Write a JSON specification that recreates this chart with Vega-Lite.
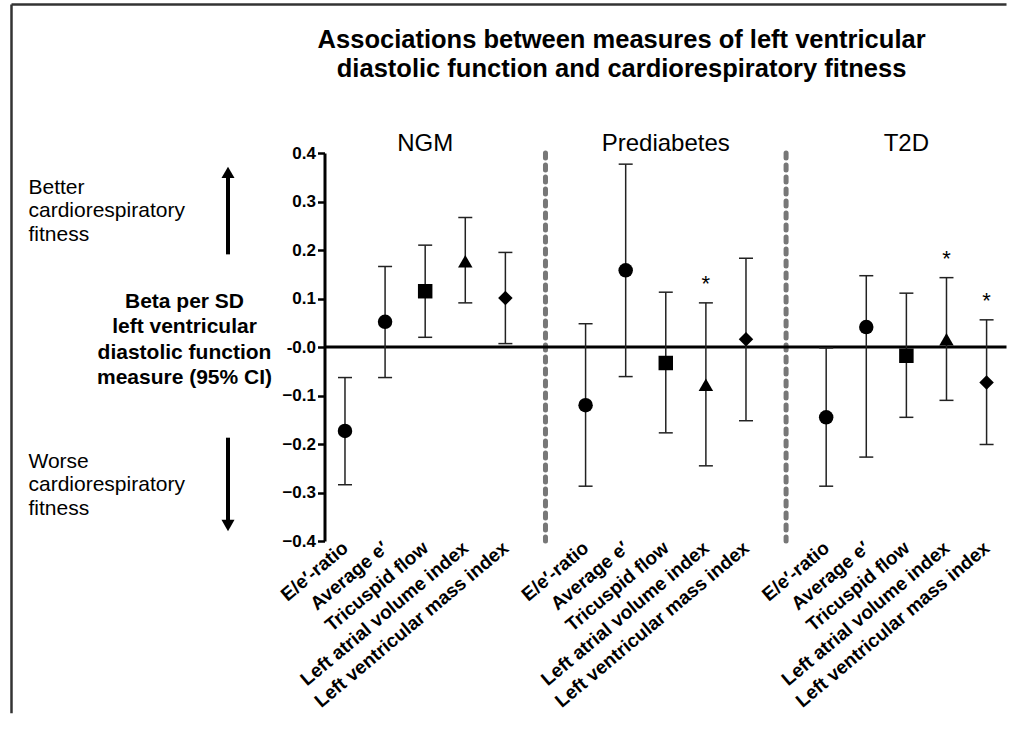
{
  "$schema": "https://vega.github.io/schema/vega-lite/v6.json",
  "autosize": {"type": "pad"},
  "padding": {"left": 4.5, "top": 3, "right": 0, "bottom": 0},
  "background": "white",
  "config": {
    "font": "Liberation Sans",
    "view": {"stroke": null},
    "axis": {"grid": false}
  },
  "spacing": 20,
  "bounds": "flush",
  "hconcat": [
    {
      "width": 300,
      "height": 388,
      "data": {"values": [{}]},
      "layer": [
        {
          "mark": {"type": "rule", "stroke": "#333333", "strokeWidth": 2.5},
          "encoding": {
            "x": {"datum": 0.2333, "type": "quantitative", "scale": {"domain": [0, 10], "nice": false, "zero": false}, "axis": null},
            "y": {"datum": 0.7062, "type": "quantitative", "scale": {"domain": [-0.4, 0.4], "nice": false, "zero": false}, "axis": null},
            "y2": {"datum": -0.755}
          }
        },
        {
          "mark": {"type": "rule", "stroke": "#333333", "strokeWidth": 2.5},
          "encoding": {
            "x": {"datum": 0.2333, "type": "quantitative"},
            "x2": {"datum": 33.4},
            "y": {"datum": 0.7062, "type": "quantitative"}
          }
        },
        {
          "mark": {"type": "text", "fontWeight": "bold", "fontSize": 25.5, "align": "center", "baseline": "middle", "lineHeight": 29, "color": "black"},
          "encoding": {
            "x": {"datum": 20.57, "type": "quantitative"},
            "y": {"datum": 0.633, "type": "quantitative"},
            "text": {"value": ["Associations between measures of left ventricular", "diastolic function and cardiorespiratory fitness"]}
          }
        },
        {
          "mark": {"type": "text", "fontWeight": "bold", "fontSize": 21, "align": "center", "baseline": "middle", "lineHeight": 25.5, "color": "black"},
          "encoding": {
            "x": {"datum": 6.0, "type": "quantitative"},
            "y": {"datum": 0.093, "type": "quantitative"},
            "text": {"value": ["Beta per SD", "left ventricular", "diastolic function", "measure (95% CI)"]}
          }
        },
        {
          "mark": {"type": "text", "fontSize": 21, "align": "left", "baseline": "middle", "lineHeight": 23.5, "color": "black"},
          "encoding": {
            "x": {"datum": 0.8, "type": "quantitative"},
            "y": {"datum": 0.328, "type": "quantitative"},
            "text": {"value": ["Better", "cardiorespiratory", "fitness"]}
          }
        },
        {
          "mark": {"type": "text", "fontSize": 21, "align": "left", "baseline": "middle", "lineHeight": 23.5, "color": "black"},
          "encoding": {
            "x": {"datum": 0.8, "type": "quantitative"},
            "y": {"datum": -0.237, "type": "quantitative"},
            "text": {"value": ["Worse", "cardiorespiratory", "fitness"]}
          }
        },
        {
          "mark": {"type": "rule", "stroke": "black", "strokeWidth": 4},
          "encoding": {
            "x": {"datum": 7.45, "type": "quantitative"},
            "y": {"datum": 0.191, "type": "quantitative"},
            "y2": {"datum": 0.35}
          }
        },
        {
          "mark": {"type": "point", "shape": "triangle-up", "filled": true, "color": "black", "size": 170, "opacity": 1},
          "encoding": {
            "x": {"datum": 7.45, "type": "quantitative"},
            "y": {"datum": 0.36, "type": "quantitative"}
          }
        },
        {
          "mark": {"type": "rule", "stroke": "black", "strokeWidth": 4},
          "encoding": {
            "x": {"datum": 7.45, "type": "quantitative"},
            "y": {"datum": -0.187, "type": "quantitative"},
            "y2": {"datum": -0.358}
          }
        },
        {
          "mark": {"type": "point", "shape": "triangle-down", "filled": true, "color": "black", "size": 170, "opacity": 1},
          "encoding": {
            "x": {"datum": 7.45, "type": "quantitative"},
            "y": {"datum": -0.368, "type": "quantitative"}
          }
        }
      ]
    },
    {
      "width": 682,
      "height": 388,
      "data": {
        "values": [
          {"group": "NGM", "measure": "E/e′-ratio", "key": "NGM|E/e′-ratio", "beta": -0.173, "lo": -0.284, "hi": -0.063, "sig": ""},
          {"group": "NGM", "measure": "Average e′", "key": "NGM|Average e′", "beta": 0.052, "lo": -0.063, "hi": 0.166, "sig": ""},
          {"group": "NGM", "measure": "Tricuspid flow", "key": "NGM|Tricuspid flow", "beta": 0.115, "lo": 0.020, "hi": 0.210, "sig": ""},
          {"group": "NGM", "measure": "Left atrial volume index", "key": "NGM|Left atrial volume index", "beta": 0.177, "lo": 0.091, "hi": 0.267, "sig": ""},
          {"group": "NGM", "measure": "Left ventricular mass index", "key": "NGM|Left ventricular mass index", "beta": 0.101, "lo": 0.007, "hi": 0.195, "sig": ""},
          {"group": "Prediabetes", "measure": "E/e′-ratio", "key": "Prediabetes|E/e′-ratio", "beta": -0.120, "lo": -0.287, "hi": 0.048, "sig": ""},
          {"group": "Prediabetes", "measure": "Average e′", "key": "Prediabetes|Average e′", "beta": 0.158, "lo": -0.061, "hi": 0.377, "sig": ""},
          {"group": "Prediabetes", "measure": "Tricuspid flow", "key": "Prediabetes|Tricuspid flow", "beta": -0.033, "lo": -0.177, "hi": 0.113, "sig": ""},
          {"group": "Prediabetes", "measure": "Left atrial volume index", "key": "Prediabetes|Left atrial volume index", "beta": -0.078, "lo": -0.245, "hi": 0.091, "sig": "*"},
          {"group": "Prediabetes", "measure": "Left ventricular mass index", "key": "Prediabetes|Left ventricular mass index", "beta": 0.016, "lo": -0.152, "hi": 0.183, "sig": ""},
          {"group": "T2D", "measure": "E/e′-ratio", "key": "T2D|E/e′-ratio", "beta": -0.145, "lo": -0.287, "hi": -0.002, "sig": ""},
          {"group": "T2D", "measure": "Average e′", "key": "T2D|Average e′", "beta": 0.041, "lo": -0.227, "hi": 0.147, "sig": ""},
          {"group": "T2D", "measure": "Tricuspid flow", "key": "T2D|Tricuspid flow", "beta": -0.018, "lo": -0.145, "hi": 0.111, "sig": ""},
          {"group": "T2D", "measure": "Left atrial volume index", "key": "T2D|Left atrial volume index", "beta": 0.016, "lo": -0.110, "hi": 0.143, "sig": "*"},
          {"group": "T2D", "measure": "Left ventricular mass index", "key": "T2D|Left ventricular mass index", "beta": -0.073, "lo": -0.201, "hi": 0.056, "sig": "*"}
        ]
      },
      "layer": [
        {
          "data": {"values": [{"key": "gap1"}, {"key": "gap2"}]},
          "mark": {"type": "rule", "stroke": "#777777", "strokeWidth": 5, "strokeDash": [5, 7], "strokeCap": "round"},
          "encoding": {
            "x": {"field": "key", "type": "nominal", "title": null,
              "scale": {"type": "point", "padding": 0.5037, "align": 0.507, "domain": ["NGM|E/e′-ratio", "NGM|Average e′", "NGM|Tricuspid flow", "NGM|Left atrial volume index", "NGM|Left ventricular mass index", "gap1", "Prediabetes|E/e′-ratio", "Prediabetes|Average e′", "Prediabetes|Tricuspid flow", "Prediabetes|Left atrial volume index", "Prediabetes|Left ventricular mass index", "gap2", "T2D|E/e′-ratio", "T2D|Average e′", "T2D|Tricuspid flow", "T2D|Left atrial volume index", "T2D|Left ventricular mass index"]},
              "axis": {"domain": false, "ticks": false, "labelAngle": -40, "labelAlign": "right", "labelBaseline": "middle", "labelFontSize": 19, "labelFontWeight": "bold", "labelColor": "black", "labelPadding": 4, "labelLimit": 400, "labelOverlap": false, "labelBound": false, "labelExpr": "indexof(datum.label, '|') >= 0 ? split(datum.label, '|')[1] : ''"}
            }
          }
        },
        {
          "data": {"values": [{}]},
          "mark": {"type": "rule", "stroke": "black", "strokeWidth": 3},
          "encoding": {
            "y": {"datum": 0, "type": "quantitative", "title": null}
          }
        },
        {
          "mark": {"type": "rule", "stroke": "#222222", "strokeWidth": 1.5},
          "encoding": {
            "x": {"field": "key", "type": "nominal", "title": null},
            "y": {"field": "lo", "type": "quantitative", "title": null,
              "scale": {"domain": [-0.4, 0.4], "nice": false, "zero": false},
              "axis": {"values": [-0.4, -0.3, -0.2, -0.1, 0, 0.1, 0.2, 0.3, 0.4], "labelExpr": "datum.value == 0 ? '-0.0' : format(datum.value, '.1f')", "domainWidth": 3, "domainColor": "black", "tickColor": "black", "tickWidth": 2.5, "tickSize": 7, "labelFontSize": 17, "labelFontWeight": "bold", "labelColor": "black", "labelPadding": 2, "labelFlush": false, "labelOverlap": false}
            },
            "y2": {"field": "hi"}
          }
        },
        {
          "mark": {"type": "tick", "color": "#222222", "thickness": 1.5, "size": 14, "opacity": 1},
          "encoding": {
            "x": {"field": "key", "type": "nominal", "title": null},
            "y": {"field": "lo", "type": "quantitative", "title": null}
          }
        },
        {
          "mark": {"type": "tick", "color": "#222222", "thickness": 1.5, "size": 14, "opacity": 1},
          "encoding": {
            "x": {"field": "key", "type": "nominal", "title": null},
            "y": {"field": "hi", "type": "quantitative", "title": null}
          }
        },
        {
          "mark": {"type": "point", "filled": true, "color": "black", "opacity": 1},
          "encoding": {
            "x": {"field": "key", "type": "nominal", "title": null},
            "y": {"field": "beta", "type": "quantitative", "title": null},
            "shape": {"field": "measure", "type": "nominal", "legend": null,
              "scale": {"domain": ["E/e′-ratio", "Average e′", "Tricuspid flow", "Left atrial volume index", "Left ventricular mass index"], "range": ["circle", "circle", "square", "triangle-up", "diamond"]}},
            "size": {"field": "measure", "type": "nominal", "legend": null,
              "scale": {"domain": ["E/e′-ratio", "Average e′", "Tricuspid flow", "Left atrial volume index", "Left ventricular mass index"], "range": [210, 210, 225, 290, 270]}}
          }
        },
        {
          "transform": [{"filter": "datum.sig == '*'"}],
          "mark": {"type": "text", "fontSize": 22, "baseline": "alphabetic", "align": "center", "dy": -12, "color": "black"},
          "encoding": {
            "x": {"field": "key", "type": "nominal", "title": null},
            "y": {"field": "hi", "type": "quantitative", "title": null},
            "text": {"field": "sig"}
          }
        },
        {
          "data": {"values": [{"key": "NGM|Tricuspid flow", "label": "NGM"}, {"key": "Prediabetes|Tricuspid flow", "label": "Prediabetes"}, {"key": "T2D|Tricuspid flow", "label": "T2D"}]},
          "mark": {"type": "text", "fontSize": 24, "baseline": "alphabetic", "align": "center", "color": "black"},
          "encoding": {
            "x": {"field": "key", "type": "nominal", "title": null},
            "y": {"datum": 0.405, "type": "quantitative", "title": null},
            "text": {"field": "label"}
          }
        }
      ]
    }
  ]
}
